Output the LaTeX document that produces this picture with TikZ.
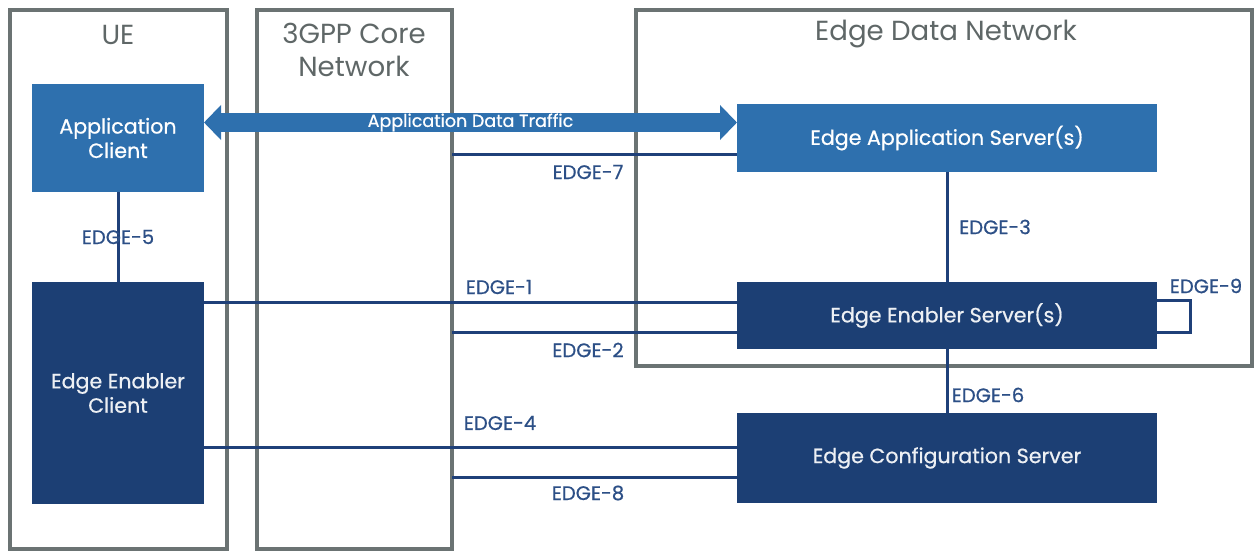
\documentclass[tikz,border=0pt]{standalone}
\usepackage{fontspec}
\setmainfont{Poppins}
\newfontfamily\mediumface{Poppins}[FakeBold=0.7]
\usetikzlibrary{arrows.meta,calc}

\definecolor{framegray}{HTML}{6B7373}
\definecolor{titlegray}{HTML}{5F6767}
\definecolor{lightblue}{HTML}{2E70AE}
\definecolor{navy}{HTML}{1C3F74}
\definecolor{linknavy}{HTML}{1F4079}
\definecolor{labelnavy}{HTML}{2C4F86}

\begin{document}
\begin{tikzpicture}[x=0.5pt,y=-0.5pt,
  zonebox/.style={draw=framegray,line width=2pt,inner sep=0pt,outer sep=0pt},
  zonetitle/.style={text=titlegray,font=\fontsize{13.8}{16.2}\selectfont,align=center,inner sep=0pt},
  appbox/.style={fill=lightblue,text=white,inner sep=0pt,outer sep=0pt,align=center,
    font=\mediumface\fontsize{10.3}{12.2}\selectfont},
  enbox/.style={fill=navy,text=white!92!navy,inner sep=0pt,outer sep=0pt,align=center,
    font=\mediumface\fontsize{10.3}{12.2}\selectfont},
  linkline/.style={draw=linknavy,line width=1.5pt},
  iface/.style={text=labelnavy,font=\mediumface\fontsize{9.8}{11.5}\selectfont,inner sep=0pt}]

\useasboundingbox (0,0) rectangle (1256,551);

% domains
\node[zonebox,minimum width=108.5pt,minimum height=269.5pt] (ue)   at (118.5,279.5) {};
\node[zonebox,minimum width=97.5pt,minimum height=269.5pt]  (core) at (354.5,279.5) {};
\node[zonebox,minimum width=308pt,minimum height=178pt]     (edn)  at (944,188) {};

\node[zonetitle] (uetitle)   at (118,35) {UE};
\node[zonetitle] (coretitle) at (354,50) {3GPP Core\\Network};
\node[zonetitle] (edntitle)  at (946,34.5) {Edge Data Network};

% functional entities
\node[appbox,minimum width=86pt,minimum height=54pt]  (ac)  at (118,138) {Application\\Client};
\node[enbox,minimum width=86pt,minimum height=111pt]  (eec) at (118,393) {Edge Enabler\\Client};
\node[appbox,minimum width=210pt,minimum height=34pt] (eas) at (947,138) {Edge Application Server(s)};
\node[enbox,minimum width=210pt,minimum height=33.5pt] (ees) at (947,315.5) {Edge Enabler Server(s)};
\node[enbox,minimum width=210pt,minimum height=45pt]  (ecs) at (947,458) {Edge Configuration Server};

% application data traffic
\draw[lightblue,line width=9.5pt,
  {Triangle[width=17pt,length=8.5pt]}-{Triangle[width=17pt,length=8.5pt]}]
  ([yshift=7.75pt]ac.east) -- ([yshift=7.75pt]eas.west)
  node[midway,text=white,font=\mediumface\fontsize{8.75}{10}\selectfont,inner sep=0pt] (adt) {Application Data Traffic};

% reference points
\coordinate (e7) at ([yshift=-8pt]eas.west);
\coordinate (e1) at ([yshift=6.75pt]ees.west);
\coordinate (e2) at ([yshift=-8.25pt]ees.west);
\coordinate (e9a) at ([yshift=7.75pt]ees.east);
\coordinate (e9b) at ([yshift=-8.25pt]ees.east);
\coordinate (e4) at ([yshift=5.5pt]ecs.west);
\coordinate (e8) at ([yshift=-9.5pt]ecs.west);

\draw[linkline] (ac.south) -- (eec.north);
\draw[linkline] (core.east |- e7) -- (e7);
\draw[linkline] (eas.south) -- (ees.north);
\draw[linkline] (eec.east |- e1) -- (e1);
\draw[linkline] (core.east |- e2) -- (e2);
\draw[linkline] (e9a) -- ++(16.5pt,0) |- (e9b);
\draw[linkline] (ees.south) -- (ecs.north);
\draw[linkline] (eec.east |- e4) -- (e4);
\draw[linkline] (core.east |- e8) -- (e8);

\node[iface] (l5) at (118,237) {EDGE-5};
\node[iface] (l7) at (588,172) {EDGE-7};
\node[iface] (l3) at (995,227) {EDGE-3};
\node[iface] (l1) at (499,287) {EDGE-1};
\node[iface] (l2) at (588,350) {EDGE-2};
\node[iface] (l9) at (1206,286) {EDGE-9};
\node[iface] (l6) at (988,395) {EDGE-6};
\node[iface] (l4) at (500,423) {EDGE-4};
\node[iface] (l8) at (588,493) {EDGE-8};

\end{tikzpicture}
\end{document}
